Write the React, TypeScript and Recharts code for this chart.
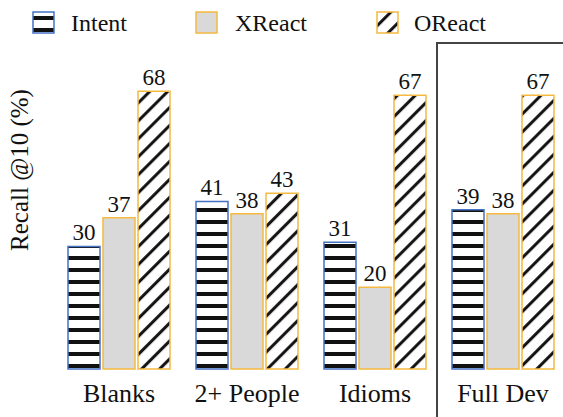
import { Bar, BarChart, LabelList, XAxis, YAxis } from "recharts";

const categories = ["Blanks", "2+ People", "Idioms", "Full Dev"];
const intent = [30, 41, 31, 39];
const xreact = [37, 38, 20, 38];
const oreact = [68, 43, 67, 67];

const data = categories.map((name, i) => ({
  name,
  intent: intent[i],
  xreact: xreact[i],
  oreact: oreact[i],
}));

const FONT = '"Liberation Serif", "Times New Roman", serif';
const BLUE = "#4472C4";
const ORANGE = "#F5B942";

function Patterns({ prefix }: { prefix: string }) {
  return (
    <defs>
      <pattern id={`${prefix}-hstripe`} patternUnits="userSpaceOnUse" width="12" height="12">
        <rect width="12" height="12" fill="#fff" />
        <rect y="4" width="12" height="4" fill="#111" />
      </pattern>
      <pattern
        id={`${prefix}-diag`}
        patternUnits="userSpaceOnUse"
        width="12.7"
        height="12.7"
        patternTransform="rotate(45)"
      >
        <rect width="12.7" height="12.7" fill="#fff" />
        <rect x="4" width="3" height="12.7" fill="#111" />
      </pattern>
    </defs>
  );
}

const legendItems = [
  { label: "Intent", fill: "url(#lg-hstripe)", stroke: BLUE, x: 33, tx: 71 },
  { label: "XReact", fill: "#D9D9D9", stroke: ORANGE, x: 196, tx: 235 },
  { label: "OReact", fill: "url(#lg-diag)", stroke: ORANGE, x: 377, tx: 414 },
];

function LegendBar() {
  return (
    <svg width={563} height={44} style={{ position: "absolute", left: 0, top: 0 }}>
      <Patterns prefix="lg" />
      {legendItems.map((it) => (
        <g key={it.label}>
          <rect x={it.x} y={12} width={21} height={21} fill={it.fill} stroke={it.stroke} strokeWidth={1.5} />
          <text x={it.tx} y={31} fontFamily={FONT} fontSize={24} fill="#111">
            {it.label}
          </text>
        </g>
      ))}
    </svg>
  );
}

export default function App() {
  const labelStyle = { fontFamily: FONT, fontSize: 23, fill: "#111" };
  return (
    <div
      style={{
        position: "absolute",
        left: 0,
        top: 0,
        width: 563,
        height: 417,
        overflow: "hidden",
        background: "#fff",
      }}
    >
      <BarChart
        width={575}
        height={417}
        data={data}
        margin={{ top: 83, right: 8, left: 55, bottom: 18 }}
        barGap={3}
        barSize={32}
      >
        <Patterns prefix="ch" />
        <XAxis
          dataKey="name"
          axisLine={false}
          tickLine={false}
          tickMargin={9}
          tick={{ fontFamily: FONT, fontSize: 26, fill: "#111" }}
          interval={0}
        />
        <YAxis hide domain={[0, 70]} />
        <Bar dataKey="intent" fill="url(#ch-hstripe)" stroke={BLUE} strokeWidth={1.5} isAnimationActive={false}>
          <LabelList dataKey="intent" position="top" offset={6} style={labelStyle} />
        </Bar>
        <Bar dataKey="xreact" fill="#D9D9D9" stroke={ORANGE} strokeWidth={1.5} isAnimationActive={false}>
          <LabelList dataKey="xreact" position="top" offset={6} style={labelStyle} />
        </Bar>
        <Bar dataKey="oreact" fill="url(#ch-diag)" stroke={ORANGE} strokeWidth={1.5} isAnimationActive={false}>
          <LabelList dataKey="oreact" position="top" offset={6} style={labelStyle} />
        </Bar>
      </BarChart>
      <LegendBar />
      <div
        style={{
          position: "absolute",
          left: 436,
          top: 42,
          width: 140,
          height: 400,
          borderLeft: "2px solid #444",
          borderTop: "2px solid #444",
          pointerEvents: "none",
        }}
      />
      <div
        style={{
          position: "absolute",
          left: 20,
          top: 170,
          transform: "translate(-50%, -50%) rotate(-90deg)",
          fontFamily: FONT,
          fontSize: 25,
          color: "#111",
          whiteSpace: "nowrap",
        }}
      >
        Recall @10 (%)
      </div>
    </div>
  );
}
